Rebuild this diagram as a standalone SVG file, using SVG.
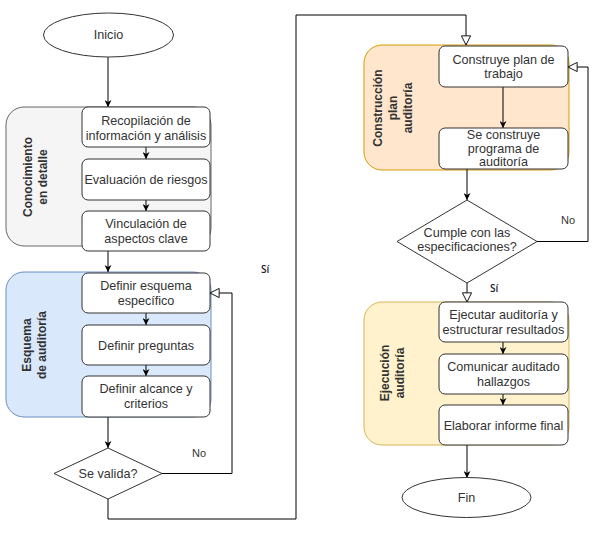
<svg xmlns="http://www.w3.org/2000/svg" width="596" height="536" viewBox="0 0 596 536">
<defs>
<marker id="arr" viewBox="0 0 10 10" refX="10" refY="5" markerWidth="7" markerHeight="7" markerUnits="userSpaceOnUse" orient="auto">
<path d="M0,0 L10,5 L0,10 L3,5 Z" fill="#000"/>
</marker>
<marker id="open" viewBox="0 0 12 12" refX="11" refY="6" markerWidth="11" markerHeight="11" markerUnits="userSpaceOnUse" orient="auto">
<path d="M1,1 L11,6 L1,11 Z" fill="#fff" stroke="#000" stroke-width="1"/>
</marker>
</defs>
<style>
.box{fill:#fff;stroke:#333;stroke-width:1}
.t{font-family:"Liberation Sans",Arial,sans-serif;font-size:12.6px;fill:#333;text-anchor:middle}
.g{font-family:"Liberation Sans",Arial,sans-serif;font-size:12px;font-weight:bold;fill:#333;text-anchor:middle}
.lbl{font-family:"Liberation Sans",Arial,sans-serif;font-size:11px;fill:#333}
.si{font-family:"Open Sans","Liberation Sans",sans-serif;font-size:10px;font-weight:600;fill:#1a1a2e}
.c{fill:none;stroke:#000;stroke-width:1}
</style>
<rect width="596" height="536" fill="#fff"/>

<g id="grp-conocimiento">
<rect x="6" y="107" width="205" height="139" rx="18" fill="#f5f5f5" stroke="#666"/>
<text class="g" transform="translate(0,177) rotate(-90)"><tspan x="0" y="32">Conocimiento</tspan><tspan x="0" y="47">en detalle</tspan></text>
</g>
<g id="grp-esquema">
<rect x="6" y="272" width="205" height="145" rx="18" fill="#dae8fc" stroke="#6c8ebf"/>
<text class="g" transform="translate(0,345) rotate(-90)"><tspan x="0" y="31">Esquema</tspan><tspan x="0" y="46">de auditoría</tspan></text>
</g>
<g id="grp-construccion">
<rect x="364" y="45" width="205" height="125" rx="18" fill="#ffe6cc" stroke="#d79b00"/>
<text class="g" transform="translate(0,108) rotate(-90)"><tspan x="0" y="382">Construcción</tspan><tspan x="0" y="397">plan</tspan><tspan x="0" y="412">auditoría</tspan></text>
</g>
<g id="grp-ejecucion">
<rect x="364" y="302" width="205" height="143" rx="18" fill="#fff2cc" stroke="#d6b656"/>
<text class="g" transform="translate(0,373) rotate(-90)"><tspan x="0" y="389">Ejecución</tspan><tspan x="0" y="404">auditoría</tspan></text>
</g>

<g id="connectors">
<path class="c" d="M108,57 V107" marker-end="url(#arr)"/>
<path class="c" d="M146,147 V159" marker-end="url(#arr)"/>
<path class="c" d="M146,200 V211" marker-end="url(#arr)"/>
<path class="c" d="M108,251 V272" marker-end="url(#arr)"/>
<path class="c" d="M146,313 V325" marker-end="url(#arr)"/>
<path class="c" d="M146,365 V376" marker-end="url(#arr)"/>
<path class="c" d="M108,417 V448" marker-end="url(#arr)"/>
<path class="c" d="M162,473.5 H232 V293 H210" marker-end="url(#open)"/>
<path class="c" d="M108,499 V519 H296 V15 H466 V45" marker-end="url(#open)"/>
<path class="c" d="M503,87 V128" marker-end="url(#arr)"/>
<path class="c" d="M467,169 V200" marker-end="url(#arr)"/>
<path class="c" d="M537,241.5 H588 V67 H568" marker-end="url(#open)"/>
<path class="c" d="M467,283 V302" marker-end="url(#open)"/>
<path class="c" d="M503,342 V354" marker-end="url(#arr)"/>
<path class="c" d="M503,394 V405" marker-end="url(#arr)"/>
<path class="c" d="M467,445 V478" marker-end="url(#arr)"/>
<text class="lbl" x="192" y="457">No</text>
<text class="lbl" x="561" y="224">No</text>
<text class="si" x="261" y="273">Sí</text>
<text class="si" x="490" y="292">Sí</text>
</g>

<g id="inicio">
<ellipse cx="108.5" cy="35" rx="65" ry="22" class="box"/>
<text class="t" x="108.5" y="39">Inicio</text>
</g>
<g id="recopilacion">
<rect x="82" y="107" width="128" height="40" rx="6" class="box"/>
<text class="t"><tspan x="146" y="125">Recopilación de</tspan><tspan x="146" y="139.5">información y análisis</tspan></text>
</g>
<g id="evaluacion">
<rect x="82" y="159" width="128" height="41" rx="6" class="box"/>
<text class="t" x="146" y="184">Evaluación de riesgos</text>
</g>
<g id="vinculacion">
<rect x="82" y="211" width="128" height="40" rx="6" class="box"/>
<text class="t"><tspan x="146" y="228">Vinculación de</tspan><tspan x="146" y="242.5">aspectos clave</tspan></text>
</g>
<g id="definir-esquema">
<rect x="82" y="273" width="128" height="40" rx="6" class="box"/>
<text class="t"><tspan x="146" y="290">Definir esquema</tspan><tspan x="146" y="304.5">específico</tspan></text>
</g>
<g id="definir-preguntas">
<rect x="82" y="325" width="128" height="40" rx="6" class="box"/>
<text class="t" x="146" y="349.5">Definir preguntas</text>
</g>
<g id="definir-alcance">
<rect x="82" y="376" width="128" height="41" rx="6" class="box"/>
<text class="t"><tspan x="146" y="393">Definir alcance y</tspan><tspan x="146" y="407.5">criterios</tspan></text>
</g>
<g id="se-valida">
<path d="M108,448 L162,473.5 L108,499 L54,473.5 Z" class="box"/>
<text class="t" x="108" y="478">Se valida?</text>
</g>
<g id="construye-plan">
<rect x="439" y="46" width="129" height="41" rx="6" class="box"/>
<text class="t"><tspan x="503.5" y="64">Construye plan de</tspan><tspan x="503.5" y="78">trabajo</tspan></text>
</g>
<g id="programa">
<rect x="439" y="128" width="129" height="41" rx="6" class="box"/>
<text class="t"><tspan x="503.5" y="139">Se construye</tspan><tspan x="503.5" y="152.5">programa de</tspan><tspan x="503.5" y="166">auditoría</tspan></text>
</g>
<g id="cumple">
<path d="M467,200 L537,241.5 L467,283 L397,241.5 Z" class="box"/>
<text class="t"><tspan x="467" y="237">Cumple con las</tspan><tspan x="467" y="251">especificaciones?</tspan></text>
</g>
<g id="ejecutar">
<rect x="439" y="302" width="129" height="40" rx="6" class="box"/>
<text class="t"><tspan x="503.5" y="319">Ejecutar auditoría y</tspan><tspan x="503.5" y="333.5">estructurar resultados</tspan></text>
</g>
<g id="comunicar">
<rect x="439" y="354" width="129" height="40" rx="6" class="box"/>
<text class="t"><tspan x="503.5" y="371">Comunicar auditado</tspan><tspan x="503.5" y="385.5">hallazgos</tspan></text>
</g>
<g id="elaborar">
<rect x="439" y="405" width="129" height="40" rx="6" class="box"/>
<text class="t" x="503.5" y="429.5">Elaborar informe final</text>
</g>
<g id="fin">
<ellipse cx="466.5" cy="497.5" rx="64.5" ry="20" class="box"/>
<text class="t" x="466.5" y="502">Fin</text>
</g>
</svg>
